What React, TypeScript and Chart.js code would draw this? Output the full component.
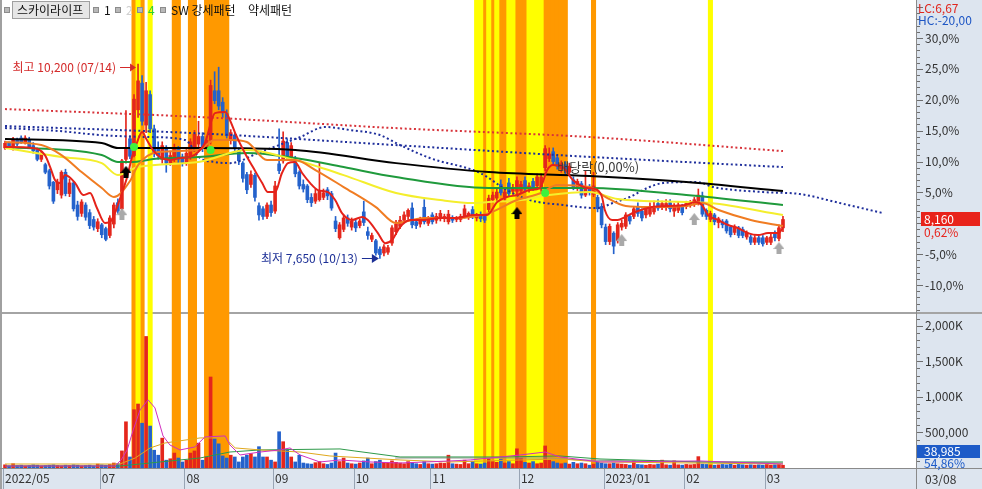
import React, { useEffect, useRef } from 'react';
import { Chart, registerables } from 'chart.js';

Chart.register(...registerables);

const W = 982;
const H = 489;
const PANEL_BG = '#dde5ef';
const UP = '#e4261c';
const DOWN = '#2462cc';

const BASE_PRICE = 8110;
const LC = 6.67;
const HC = -20.0;
const VOL_RATIO = 54.86;
const HIGH_DATE = '07/14';
const LOW_DATE = '10/13';
const LAST_DATE = '03/08';
const STOCK_NAME = '스카이라이프';

const OPEN = [
  9100, 9160, 9110, 9200, 9230, 9170, 9210, 9130, 9070, 8950,
  8880, 8800, 8650, 8550, 8480, 8780, 8500, 8640, 8350, 8240,
  8350, 8250, 8160, 8040, 8090, 8040, 7950, 8100, 8380, 8300,
  8950, 9220, 9000, 9600, 9950, 9400, 9800, 9350, 9100, 8950,
  9100, 8900, 8950, 9080, 8980, 8900, 8980, 9100, 9150, 9250,
  9120, 9200, 9850, 9850, 9700, 9550, 9200, 9270, 9070, 8900,
  8750, 8620, 8740, 8340, 8300, 8200, 8350, 8270, 8890, 8930,
  9170, 8980, 8930, 8780, 8620, 8600, 8450, 8400, 8420, 8450,
  8550, 8500, 8140, 7920, 8030, 8180, 8060, 8120, 8080, 8260,
  8000, 7900, 7880, 7770, 7720, 7730, 7850, 8000, 8070, 8150,
  8200, 8310, 8130, 8100, 8320, 8110, 8220, 8150, 8170, 8170,
  8130, 8180, 8160, 8160, 8200, 8200, 8290, 8180, 8220, 8200,
  8290, 8420, 8440, 8620, 8450, 8640, 8530, 8530, 8540, 8670,
  8560, 8660, 8600, 8560, 8840, 8960, 9050, 8970, 8830, 8880,
  8780, 8680, 8580, 8630, 8480, 8580, 8490, 8450, 8330, 8060,
  7870, 7980, 7880, 8060, 8070, 8200, 8200, 8330, 8270, 8220,
  8230, 8260, 8370, 8320, 8320, 8380, 8270, 8280, 8320, 8330,
  8350, 8360, 8380, 8470, 8280, 8160, 8220, 8120, 8130, 8140,
  8060, 7990, 8050, 8030, 7930, 7930, 7860, 7920, 7920, 7860,
  7860, 7990, 7910, 8050,
];
const HIGH = [
  9190, 9180, 9240, 9230, 9260, 9260, 9240, 9170, 9100, 9060,
  8900, 8820, 8660, 8690, 8800, 8820, 8690, 8660, 8400, 8420,
  8380, 8290, 8200, 8170, 8110, 8060, 8210, 8380, 8430, 8950,
  9590, 9260, 9800, 10200, 10050, 9960, 9850, 9400, 9180, 9180,
  9130, 9060, 9150, 9120, 9020, 9080, 9220, 9330, 9450, 9300,
  9250, 9990, 10100, 10160, 9760, 9600, 9340, 9300, 9100, 8920,
  8780, 8800, 8770, 8380, 8330, 8380, 8400, 8660, 9350, 9310,
  9220, 9170, 8990, 8800, 8680, 8620, 8500, 8560, 8900, 8560,
  8580, 8530, 8200, 8120, 8220, 8220, 8180, 8150, 8170, 8400,
  8060, 7980, 7900, 7800, 7830, 7820, 8080, 8150, 8200, 8260,
  8300, 8380, 8160, 8190, 8420, 8200, 8250, 8240, 8280, 8230,
  8280, 8210, 8200, 8230, 8350, 8260, 8330, 8240, 8260, 8230,
  8480, 8520, 8560, 8680, 8560, 8700, 8620, 8720, 8660, 8720,
  8640, 8700, 8760, 8760, 9130, 9100, 9100, 9000, 8930, 8920,
  8900, 8720, 8690, 8660, 8800, 8620, 8780, 8480, 8370, 8100,
  8100, 8000, 8120, 8150, 8250, 8230, 8330, 8380, 8300, 8330,
  8380, 8400, 8420, 8400, 8420, 8420, 8370, 8390, 8360, 8400,
  8410, 8450, 8560, 8520, 8300, 8270, 8240, 8190, 8160, 8160,
  8080, 8090, 8070, 8060, 8010, 7960, 7950, 7950, 7950, 7940,
  7970, 8010, 8090, 8200,
];
const LOW = [
  9080, 9100, 9070, 9130, 9160, 9150, 9090, 9030, 8930, 8920,
  8760, 8560, 8370, 8500, 8440, 8470, 8460, 8270, 8150, 8200,
  8150, 8040, 8020, 8000, 7920, 7880, 7920, 8050, 8240, 8280,
  8900, 8960, 8980, 9500, 9400, 9300, 9300, 8980, 8950, 8900,
  8780, 8870, 8920, 8900, 8860, 8870, 8950, 9050, 9100, 9050,
  9080, 9150, 9680, 9600, 9500, 9230, 9150, 9050, 8880, 8650,
  8500, 8580, 8400, 8150, 8160, 8170, 8200, 8240, 8760, 8900,
  8950, 8940, 8720, 8560, 8520, 8380, 8330, 8370, 8400, 8420,
  8420, 8280, 8000, 7900, 8000, 8070, 8020, 8000, 8050, 8080,
  7900, 7870, 7690, 7650, 7680, 7700, 7820, 7960, 8040, 8120,
  8160, 8050, 8040, 8060, 8100, 8080, 8100, 8110, 8140, 8130,
  8100, 8120, 8130, 8130, 8180, 8160, 8170, 8140, 8130, 8120,
  8260, 8380, 8400, 8480, 8400, 8460, 8490, 8500, 8500, 8520,
  8520, 8540, 8560, 8530, 8800, 8920, 8880, 8820, 8780, 8760,
  8740, 8550, 8540, 8440, 8460, 8480, 8460, 8260, 8050, 7830,
  7830, 7710, 7850, 8020, 8040, 8100, 8170, 8200, 8140, 8180,
  8200, 8230, 8280, 8290, 8280, 8260, 8200, 8250, 8220, 8300,
  8320, 8330, 8350, 8200, 8160, 8130, 8090, 8050, 8050, 7980,
  7930, 7960, 7920, 7920, 7900, 7830, 7830, 7830, 7810, 7830,
  7830, 7880, 7880, 8000,
];
const CLOSE = [
  9160, 9120, 9200, 9150, 9180, 9230, 9110, 9060, 8950, 9030,
  8780, 8600, 8400, 8650, 8780, 8500, 8640, 8300, 8200, 8390,
  8190, 8080, 8060, 8130, 7960, 7900, 8180, 8350, 8270, 8930,
  9080, 8990, 9740, 9980, 9450, 9850, 9350, 9030, 9000, 9130,
  8900, 9000, 9100, 8950, 8900, 9030, 9180, 9280, 9250, 9100,
  9200, 9920, 9720, 9650, 9560, 9260, 9300, 9100, 8930, 8700,
  8550, 8750, 8450, 8220, 8200, 8350, 8250, 8600, 8800, 9190,
  8990, 9130, 8760, 8600, 8560, 8420, 8380, 8500, 8530, 8510,
  8470, 8310, 8040, 8090, 8180, 8110, 8140, 8050, 8140, 8120,
  7950, 7950, 7720, 7700, 7800, 7790, 8050, 8100, 8150, 8220,
  8280, 8090, 8080, 8160, 8130, 8170, 8130, 8200, 8240, 8200,
  8230, 8150, 8180, 8200, 8300, 8240, 8200, 8210, 8170, 8150,
  8440, 8480, 8520, 8510, 8520, 8500, 8580, 8670, 8620, 8560,
  8600, 8580, 8720, 8720, 9090, 9020, 8920, 8860, 8890, 8800,
  8860, 8590, 8660, 8480, 8560, 8520, 8600, 8300, 8090, 7870,
  8070, 7810, 8090, 8110, 8220, 8140, 8300, 8240, 8180, 8300,
  8330, 8330, 8310, 8370, 8370, 8300, 8330, 8350, 8250, 8370,
  8380, 8420, 8480, 8230, 8200, 8240, 8130, 8170, 8090, 8010,
  7960, 8060, 7950, 7950, 7990, 7860, 7920, 7860, 7840, 7920,
  7930, 7920, 8050, 8160,
];
// volume in thousands of shares
const VOLUME_K = [
  45, 30, 60, 35, 40, 30, 35, 45, 40, 30,
  35, 40, 45, 35, 30, 40, 35, 45, 40, 30,
  35, 40, 30, 55, 45, 40, 50, 70, 60, 240,
  650, 155, 820, 900, 630, 1850, 590, 250, 180, 420,
  110, 130, 210, 140, 85, 110, 210, 240, 350, 110,
  155, 1280, 410, 340, 170, 140, 180, 155, 85, 155,
  180, 200, 155, 300, 155, 155, 110, 85, 510, 370,
  250, 155, 85, 180, 70, 60, 55, 75, 90, 60,
  50, 70, 210, 90, 140, 70, 60, 55, 70, 100,
  140, 60, 90, 110, 80, 70, 100, 80, 70, 60,
  90, 75, 60, 50, 90, 60, 55, 60, 70, 65,
  180, 60, 55, 50, 110, 60, 95, 60, 55, 70,
  130, 90, 80, 120, 70, 90, 60, 270, 140, 80,
  70, 90, 60, 70, 310, 110, 90, 70, 60, 70,
  55, 80, 60, 70, 60, 40, 55, 80, 70, 60,
  60, 70, 60, 55, 50, 40, 100, 50, 45, 40,
  50, 45, 55, 110, 45, 40, 100, 45, 40, 50,
  45, 50, 160, 55, 50, 45, 40, 45, 50, 45,
  55, 40, 50, 45, 40, 45, 40, 45, 40, 50,
  40, 45, 50, 38.985,
];

const MONTH_TICKS = [-0.5, 23.5, 44.5, 66.5, 86.5, 105.5, 127.5, 148.5, 168.5, 188.5];
const MONTH_LABELS = ['2022/05', '07', '08', '09', '10', '11', '12', '2023/01', '02', '03'];
const PCT_TICKS = [30, 25, 20, 15, 10, 5, -5, -10];
const VOL_TICKS = [500000, 1000000, 1500000, 2000000];
const VOL_TICK_LABELS = ['500,000', '1,000K', '1,500K', '2,000K'];

const BANDS_ORANGE = [32, 34, 42, 43, 46, 47, 50, 51, 52, 53, 54, 55, 119, 121, 123, 124, 127, 128, 129, 134, 135, 136, 137, 138, 139, 146];
const BANDS_YELLOW = [33, 36, 117, 118, 120, 122, 125, 126, 130, 131, 132, 133, 175];

const MA5 = [[0,9111],[6.7,9098],[9.9,9006],[11.2,8848],[12.4,8678],[13.6,8638],[14.9,8743],[17.4,8638],[19.4,8481],[21.1,8507],[22.8,8310],[24.8,8113],[26.5,8153],[27.8,8323],[29,8507],[30.3,8717],[31.5,8980],[32.7,9164],[34,9308],[35.2,9203],[36.7,9072],[38.5,8980],[40.9,8940],[43.4,8967],[45.9,8980],[48.4,9072],[49.6,9164],[52.1,9557],[54.6,9571],[55.8,9465],[57.1,9295],[59.5,9032],[61.5,8848],[63.8,8638],[65.2,8520],[67,8520],[68.7,8770],[70.2,8900],[71.9,8914],[73.7,8770],[75.7,8638],[77.6,8546],[80.1,8520],[81.9,8415],[83.6,8244],[86.1,8153],[88.6,8192],[90,8153],[92.5,7981],[94.3,7849],[96,7890],[98,8061],[100.5,8153],[103.7,8153],[107.9,8179],[112.1,8179],[116.1,8218],[119.6,8218],[122.1,8389],[124.5,8455],[127,8481],[130.2,8546],[132.7,8573],[134.5,8809],[135.9,8875],[138.4,8848],[140.9,8678],[144.4,8573],[146.4,8560],[148.1,8455],[148.8,8284],[150.6,8153],[152,8153],[153.8,8192],[156.3,8258],[160.5,8323],[164.5,8336],[168.7,8350],[171.2,8389],[172.9,8350],[174.4,8218],[176.9,8153],[179.4,8087],[181.8,8048],[184.3,7981],[186.8,7955],[189.3,7981],[191.8,7981],[193,8048]];
const MA20 = [[0,9177],[9,9137],[14,9006],[19,8783],[24,8573],[27,8455],[31,8665],[33,8875],[38,9045],[48,9072],[52,9203],[56,9203],[60,9177],[65,8940],[72,8940],[77,8809],[84,8586],[92,8323],[97,8113],[104,8179],[112,8179],[120,8244],[127,8415],[133,8507],[137,8612],[145,8586],[149,8455],[154,8336],[160,8323],[169,8336],[173,8376],[177,8284],[185,8153],[193,8074]];
const MA60 = [[0,9098],[14,8980],[24,8900],[28,8743],[33,8848],[48,8914],[60,9072],[72,8940],[84,8743],[97,8507],[108,8415],[116,8376],[120,8389],[128,8415],[135,8481],[145,8520],[152,8428],[169,8389],[175,8376],[193,8218]];
const MA120 = [[0,9111],[24,9006],[28,8914],[31,8914],[38,8960],[48,8980],[60,9032],[72,8967],[84,8848],[97,8717],[120,8573],[145,8573],[169,8481],[193,8350]];
const MA240 = [[0,9216],[24,9164],[28,9098],[48,9098],[72,9072],[97,8900],[120,8783],[145,8730],[169,8652],[193,8533]];
const TREND_RED = [[0,9610],[48.4,9505],[96.8,9360],[145.1,9242],[193,9058]];
const TREND_BLUE = [[0,9387],[48.4,9290],[96.8,9137],[143.9,8985],[193,8848]];
const CLOUD = [[0,9361],[13.6,9321],[23.6,9269],[36,9242],[44.7,9203],[48.4,8967],[52.1,8914],[55.8,8900],[63.3,9045],[73.2,9242],[79.4,9374],[85.6,9334],[93,9269],[98,9137],[105.4,8967],[117.9,8770],[124.5,8546],[130.2,8415],[138.4,8350],[146.9,8310],[150.8,8376],[155,8455],[159.3,8573],[163.2,8638],[171.7,8652],[175.7,8586],[188.1,8520],[197.2,8494],[207.1,8376],[217.8,8244]];

const VMA5 = [[0,28000],[27.3,28000],[28.8,113000],[30.3,254000],[31.8,535000],[33.5,817000],[35.5,958000],[37.2,845000],[39.2,451000],[40.9,324000],[43.4,254000],[47.1,296000],[49.6,437000],[54.6,451000],[55.8,324000],[58.3,183000],[63.3,225000],[68.2,254000],[70.7,282000],[73.2,183000],[78.1,85000],[83.1,113000],[90.5,85000],[98,70000],[110.4,99000],[115.4,113000],[127.8,183000],[134,225000],[137.7,155000],[147.6,85000],[172.4,99000],[193,56000]];
const VMA20 = [[0,56000],[28.5,56000],[32.3,141000],[36,282000],[39.7,352000],[48.4,423000],[54.6,423000],[57.1,282000],[63.3,254000],[73.2,225000],[80.6,169000],[98,113000],[110.4,85000],[127.8,113000],[137.7,127000],[147.6,85000],[193,56000]];
const VMA60 = [[0,28000],[28.5,28000],[38.5,85000],[48.4,141000],[55.8,225000],[63.3,254000],[83.1,268000],[86.8,239000],[98,155000],[122.8,155000],[137.7,169000],[147.6,127000],[172.4,85000],[193,85000]];
const VMA120 = [[96.8,141000],[110.4,141000],[135.2,141000],[142.6,113000],[172.4,85000],[193,70000]];

const ARROWS_BLACK = [[30, 8785], [127, 8244]];
const ARROWS_GRAY = [[29, 8230], [153, 7890], [171, 8166], [192, 7785]];
const GREEN_DOTS = [[32, 9111], [51, 9072], [134, 8507]];
const EX_DIV = { x: 137, y: 8849, text: '배당락(0,00%)' };

const FONT = "'Noto Sans CJK KR', 'Noto Sans', sans-serif";

function fmtPct(v: number, digits: number) {
  return v.toFixed(digits).replace('.', ',');
}
function fmtInt(v: number) {
  return Math.round(v).toLocaleString('en-US');
}

export default function App() {
  const canvasRef = useRef<HTMLCanvasElement | null>(null);

  useEffect(() => {
    const canvas = canvasRef.current;
    if (!canvas) return;
    Chart.defaults.font.family = FONT;
    Chart.defaults.font.size = 12;

    const arrowImg = (color: string, w: number, h: number) => {
      const c = document.createElement('canvas');
      c.width = w;
      c.height = h;
      const g = c.getContext('2d') as CanvasRenderingContext2D;
      g.fillStyle = color;
      const head = Math.round(h * 0.55);
      g.beginPath();
      g.moveTo(w / 2, 0);
      g.lineTo(w, head);
      g.lineTo(0, head);
      g.closePath();
      g.fill();
      const sw = Math.round(w * 0.45);
      g.fillRect((w - sw) / 2, head, sw, h - head);
      return c;
    };
    const blackArrow = arrowImg('#000000', 11, 12);
    const grayArrow = arrowImg('#a9a9a9', 11, 12);

    const idx = CLOSE.map((_, i) => i);
    const candleColor = idx.map((i) => (CLOSE[i] >= OPEN[i] ? UP : DOWN));
    const pts = (arr: number[][]) => arr.map(([x, y]) => ({ x, y }));
    const line = (data: number[][], color: string, order: number, extra: any = {}) => ({
      type: 'line',
      data: pts(data),
      borderColor: color,
      borderWidth: 2,
      pointRadius: 0,
      cubicInterpolationMode: 'monotone',
      order,
      yAxisID: 'y',
      ...extra,
    });
    const dotted = { borderDash: [2, 2.6], borderCapStyle: 'butt' };

    const datasets: any[] = [
      { type: 'bar', yAxisID: 'yb', data: BANDS_ORANGE.map((i) => ({ x: i, y: 1 })), backgroundColor: '#ff9900', barThickness: 4.4, grouped: false, order: 100 },
      { type: 'bar', yAxisID: 'yb', data: BANDS_YELLOW.map((i) => ({ x: i, y: 1 })), backgroundColor: '#ffff00', barThickness: 4.4, grouped: false, order: 99 },
      { type: 'bar', yAxisID: 'yv', data: VOLUME_K.map((v, i) => ({ x: i, y: v * 1000 })), backgroundColor: candleColor, barThickness: 3, grouped: false, order: 60 },
      line(VMA120, '#8e8e8e', 58, { yAxisID: 'yv', borderWidth: 1, cubicInterpolationMode: 'default' }),
      line(VMA60, '#2e9a4a', 57, { yAxisID: 'yv', borderWidth: 1, cubicInterpolationMode: 'default' }),
      line(VMA20, '#e0a81c', 56, { yAxisID: 'yv', borderWidth: 1, cubicInterpolationMode: 'default' }),
      line(VMA5, '#d12fbf', 55, { yAxisID: 'yv', borderWidth: 1, cubicInterpolationMode: 'default' }),
      { type: 'bar', yAxisID: 'y', data: idx.map((i) => ({ x: i, y: [LOW[i], HIGH[i]] })), backgroundColor: candleColor, barThickness: 1, grouped: false, order: 50 },
      { type: 'bar', yAxisID: 'y', data: idx.map((i) => ({ x: i, y: [OPEN[i], CLOSE[i]] })), backgroundColor: candleColor, barThickness: 3, grouped: false, order: 49 },
      line(TREND_RED, '#d8333a', 30, dotted),
      line(TREND_BLUE, '#1f2f9c', 29, dotted),
      line(CLOUD, '#1f2f9c', 28, dotted),
      line(MA240, '#000000', 20),
      line(MA120, '#1f9a3c', 19),
      line(MA60, '#f4ee2c', 18),
      line(MA20, '#f07c22', 17),
      line(MA5, '#e5221a', 16),
      { type: 'scatter', yAxisID: 'y', data: pts(GREEN_DOTS), pointRadius: 4, pointBackgroundColor: '#3df23d', pointBorderWidth: 0, order: 2 },
      { type: 'scatter', yAxisID: 'y', data: pts(ARROWS_BLACK), pointStyle: blackArrow, pointRadius: 6, order: 1 },
      { type: 'scatter', yAxisID: 'y', data: pts(ARROWS_GRAY), pointStyle: grayArrow, pointRadius: 6, order: 1 },
    ];

    const noPad = (s: any) => {
      s.paddingLeft = 0;
      s.paddingRight = 0;
      s.paddingTop = 0;
      s.paddingBottom = 0;
    };

    const decor = {
      id: 'decor',
      beforeDraw(chart: any) {
        const { ctx, chartArea: ca } = chart;
        ctx.save();
        ctx.fillStyle = '#ffffff';
        ctx.fillRect(0, 0, W, H);
        ctx.fillStyle = PANEL_BG;
        ctx.fillRect(ca.right, 0, W - ca.right, H);
        ctx.fillRect(0, ca.bottom, ca.right, H - ca.bottom);
        ctx.restore();
      },
      beforeDatasetsDraw(chart: any) {
        const { ctx } = chart;
        const yv = chart.scales.yv;
        ctx.save();
        ctx.strokeStyle = '#a4a4a4';
        ctx.lineWidth = 2;
        ctx.beginPath();
        ctx.moveTo(0, Math.round(yv.top));
        ctx.lineTo(W, Math.round(yv.top));
        ctx.stroke();
        ctx.restore();
      },
      afterDraw(chart: any) {
        const { ctx, chartArea: ca } = chart;
        const xs = chart.scales.x;
        const ys = chart.scales.y;
        const yv = chart.scales.yv;
        ctx.save();
        // borders
        ctx.fillStyle = '#a0a0a0';
        ctx.fillRect(0, 0, 2, H);
        ctx.strokeStyle = '#8a8a8a';
        ctx.lineWidth = 1;
        ctx.beginPath();
        ctx.moveTo(Math.round(ca.right) + 0.5, 0);
        ctx.lineTo(Math.round(ca.right) + 0.5, H);
        ctx.moveTo(0, Math.round(ca.bottom) + 0.5);
        ctx.lineTo(W, Math.round(ca.bottom) + 0.5);
        ctx.stroke();
        // month separators
        ctx.strokeStyle = '#98a4b4';
        ctx.beginPath();
        MONTH_TICKS.forEach((v) => {
          const px = Math.round(xs.getPixelForValue(v)) + 0.5;
          ctx.moveTo(px, ca.bottom + 1);
          ctx.lineTo(px, H);
        });
        ctx.stroke();
        // minor ticks price axis
        const x0 = Math.round(ca.right) + 1;
        ctx.strokeStyle = '#6e6e6e';
        ctx.beginPath();
        for (let p = -14; p <= 36; p++) {
          const py = Math.round(ys.getPixelForValue(BASE_PRICE * (1 + p / 100))) + 0.5;
          if (py < ys.top + 2 || py > ys.bottom - 2) continue;
          const len = p % 5 === 0 ? 6 : 3;
          ctx.moveTo(x0, py);
          ctx.lineTo(x0 + len, py);
        }
        for (let v = 100000; v <= 2100000; v += 100000) {
          const py = Math.round(yv.getPixelForValue(v)) + 0.5;
          if (py < yv.top + 2) continue;
          const len = v % 500000 === 0 ? 6 : 3;
          ctx.moveTo(x0, py);
          ctx.lineTo(x0 + len, py);
        }
        ctx.stroke();

        ctx.font = `12px ${FONT}`;
        ctx.textBaseline = 'middle';
        ctx.textAlign = 'left';
        // LC / HC
        ctx.fillStyle = '#e0261e';
        ctx.fillText(`LC:${fmtPct(LC, 2)}`, ca.right + 2, 8);
        ctx.fillStyle = '#1c55c4';
        ctx.fillText(`HC:${fmtPct(HC, 2)}`, ca.right + 2, 20);

        // last price box
        const last = CLOSE[CLOSE.length - 1];
        const lpy = ys.getPixelForValue(last);
        ctx.fillStyle = '#e8231b';
        ctx.fillRect(ca.right + 5, Math.round(lpy) - 7, 59, 14);
        ctx.fillStyle = '#ffffff';
        ctx.fillText(fmtInt(last), ca.right + 8, lpy);
        ctx.fillStyle = '#e8231b';
        ctx.fillText(`${fmtPct((last / BASE_PRICE - 1) * 100, 2)}%`, ca.right + 8, lpy + 13);

        // last volume box
        const lastVol = VOLUME_K[VOLUME_K.length - 1] * 1000;
        const vpy = Math.min(yv.getPixelForValue(lastVol), ca.bottom - 17);
        ctx.fillStyle = '#1d5bc8';
        ctx.fillRect(ca.right + 1, Math.round(vpy) - 6, 63, 13);
        ctx.fillStyle = '#ffffff';
        ctx.fillText(fmtInt(lastVol), ca.right + 8, vpy);
        ctx.fillStyle = '#1d5bc8';
        ctx.fillText(`${fmtPct(VOL_RATIO, 2)}%`, ca.right + 8, vpy + 12);

        // last date
        ctx.fillStyle = '#333333';
        ctx.fillText(LAST_DATE, ca.right + 9, (ca.bottom + H) / 2 + 1);

        // high / low annotations
        const hiVal = Math.max(...HIGH);
        const hiIdx = HIGH.indexOf(hiVal);
        const hx = xs.getPixelForValue(hiIdx);
        const hy = ys.getPixelForValue(hiVal) + 3;
        ctx.fillStyle = '#d42a2a';
        ctx.strokeStyle = '#d42a2a';
        ctx.textAlign = 'right';
        ctx.fillText(`최고 ${fmtInt(hiVal)} (${HIGH_DATE})`, hx - 22, hy);
        ctx.beginPath();
        ctx.moveTo(hx - 18, Math.round(hy) + 0.5);
        ctx.lineTo(hx - 5, Math.round(hy) + 0.5);
        ctx.stroke();
        ctx.beginPath();
        ctx.moveTo(hx - 2, Math.round(hy) + 0.5);
        ctx.lineTo(hx - 8, Math.round(hy) - 3.5);
        ctx.lineTo(hx - 8, Math.round(hy) + 4.5);
        ctx.closePath();
        ctx.fill();

        const loVal = Math.min(...LOW);
        const loIdx = LOW.indexOf(loVal);
        const lx = xs.getPixelForValue(loIdx);
        const ly = ys.getPixelForValue(loVal);
        ctx.fillStyle = '#1c2f96';
        ctx.strokeStyle = '#1c2f96';
        ctx.fillText(`최저 ${fmtInt(loVal)} (${LOW_DATE})`, lx - 22, ly);
        ctx.beginPath();
        ctx.moveTo(lx - 18, Math.round(ly) + 0.5);
        ctx.lineTo(lx - 5, Math.round(ly) + 0.5);
        ctx.stroke();
        ctx.beginPath();
        ctx.moveTo(lx - 1, Math.round(ly) + 0.5);
        ctx.lineTo(lx - 8, Math.round(ly) - 4);
        ctx.lineTo(lx - 8, Math.round(ly) + 5);
        ctx.closePath();
        ctx.fill();

        // ex-dividend label
        ctx.textAlign = 'left';
        ctx.fillStyle = '#3a3a3a';
        ctx.font = `13px ${FONT}`;
        ctx.fillText(EX_DIV.text, xs.getPixelForValue(EX_DIV.x), ys.getPixelForValue(EX_DIV.y));

        // header
        ctx.font = `12px ${FONT}`;
        const sq = (x: number) => {
          ctx.fillStyle = '#b8b8b8';
          ctx.fillRect(x, 7, 6, 6);
          ctx.strokeStyle = '#8c8c8c';
          ctx.strokeRect(x + 0.5, 7.5, 5, 5);
        };
        sq(4);
        ctx.fillStyle = '#e6e6e6';
        ctx.fillRect(12.5, 1.5, 77, 17);
        ctx.strokeStyle = '#a0a0a0';
        ctx.strokeRect(12.5, 1.5, 77, 17);
        ctx.fillStyle = '#111111';
        ctx.fillText(STOCK_NAME, 17, 10.5);
        sq(93);
        ctx.fillStyle = '#111111';
        ctx.fillText('1', 104, 10.5);
        sq(115);
        ctx.fillStyle = '#cfcfcf';
        ctx.fillText('2', 126, 10.5);
        sq(137);
        ctx.fillStyle = '#2fcf2f';
        ctx.fillText('4', 148, 10.5);
        sq(160);
        ctx.fillStyle = '#111111';
        ctx.fillText('SW 강세패턴', 171, 10.5);
        ctx.fillText('약세패턴', 248, 10.5);
        ctx.restore();
      },
    };

    const chart = new Chart(canvas, {
      type: 'bar',
      data: { datasets },
      plugins: [decor],
      options: {
        responsive: false,
        animation: false,
        devicePixelRatio: 1,
        events: [],
        layout: { autoPadding: false, padding: { left: 2, right: 0, top: 0, bottom: 0 } },
        plugins: { legend: { display: false }, tooltip: { enabled: false } },
        scales: {
          x: {
            type: 'linear',
            min: -0.75,
            max: 226,
            offset: false,
            grid: { display: false, drawTicks: false },
            border: { display: false },
            afterBuildTicks: (s: any) => {
              s.ticks = MONTH_TICKS.map((v) => ({ value: v }));
            },
            afterFit: (s: any) => {
              s.height = 21;
              noPad(s);
            },
            ticks: {
              autoSkip: false,
              maxRotation: 0,
              align: 'start',
              labelOffset: 2,
              padding: 3,
              color: '#333333',
              font: { size: 12 },
              callback: (_v: any, i: number) => MONTH_LABELS[i] ?? '',
            },
          },
          y: {
            type: 'linear',
            position: 'right',
            stack: 'main',
            stackWeight: 313,
            min: 6932,
            max: 11042,
            grid: { display: false, drawTicks: false },
            border: { display: false },
            afterBuildTicks: (s: any) => {
              s.ticks = PCT_TICKS.map((p) => ({ value: BASE_PRICE * (1 + p / 100) }));
            },
            afterFit: (s: any) => {
              s.width = 66;
              noPad(s);
            },
            ticks: {
              padding: 9,
              color: '#333333',
              font: { size: 12 },
              callback: (v: any) => `${fmtPct((Number(v) / BASE_PRICE - 1) * 100, 1)}%`,
            },
          },
          yv: {
            type: 'linear',
            position: 'right',
            stack: 'main',
            stackWeight: 155,
            min: 0,
            max: 2180000,
            grid: { display: false, drawTicks: false },
            border: { display: false },
            afterBuildTicks: (s: any) => {
              s.ticks = VOL_TICKS.map((v) => ({ value: v }));
            },
            afterFit: (s: any) => {
              s.width = 66;
              noPad(s);
            },
            ticks: {
              padding: 9,
              color: '#333333',
              font: { size: 12 },
              callback: (_v: any, i: number) => VOL_TICK_LABELS[i] ?? '',
            },
          },
          yb: { type: 'linear', display: false, min: 0, max: 1, afterFit: noPad },
        },
      } as any,
    } as any);

    return () => chart.destroy();
  }, []);

  return (
    <div style={{ position: 'absolute', left: 0, top: 0, width: W, height: H }}>
      <canvas ref={canvasRef} width={W} height={H} style={{ width: W, height: H, display: 'block' }} />
    </div>
  );
}
